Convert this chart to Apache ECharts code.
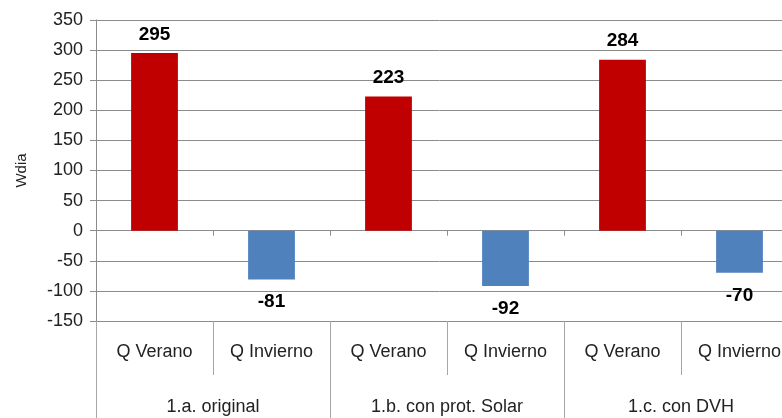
<!DOCTYPE html>
<html>
<head>
<meta charset="utf-8">
<script src="https://cdn.jsdelivr.net/npm/echarts@6/dist/echarts.min.js"></script>
<style>
  html, body { margin: 0; padding: 0; background: #fff; }
  #chart { width: 782px; height: 418px; }
</style>
</head>
<body>
<div id="chart"></div>
<script>
// data
var barLabels = ['Q Verano', 'Q Invierno', 'Q Verano', 'Q Invierno', 'Q Verano', 'Q Invierno'];
var groupLabels = ['1.a. original', '1.b. con prot. Solar', '1.c. con DVH'];
var veranoValues = [295, null, 223, null, 284, null];
var inviernoValues = [null, -81, null, -92, null, -70];

var font = 'Liberation Sans';
var gridColor = '#8c8c8c';

var chart = echarts.init(document.getElementById('chart'));

var option = {
  animation: false,
  grid: { left: 96, top: 20, width: 702, bottom: 97, outerBoundsMode: 'none', containLabel: false },
  xAxis: [
    {
      // zero line with small ticks
      type: 'category',
      data: barLabels,
      position: 'bottom',
      axisLine: { show: true, onZero: true, lineStyle: { color: gridColor } },
      axisTick: { show: true, length: 5, lineStyle: { color: gridColor } },
      axisLabel: { show: false },
      splitLine: { show: false }
    },
    {
      type: 'category',
      data: barLabels,
      position: 'bottom',
      axisLine: { show: true, onZero: false, lineStyle: { color: gridColor } },
      axisTick: { show: true, length: 54, lineStyle: { color: '#a6a6a6' } },
      axisLabel: { interval: 0, margin: 22, fontFamily: font, fontSize: 18, color: '#222' }
    },
    {
      type: 'category',
      data: groupLabels,
      position: 'bottom',
      axisLine: { show: false, onZero: false },
      axisTick: { show: true, length: 97, lineStyle: { color: '#a6a6a6' } },
      axisLabel: { interval: 0, margin: 77, fontFamily: font, fontSize: 18, color: '#222' }
    }
  ],
  yAxis: {
    type: 'value',
    min: -150,
    max: 350,
    interval: 50,
    name: 'Wdia',
    nameLocation: 'middle',
    nameGap: 67,
    nameTextStyle: { fontFamily: font, fontSize: 15, color: '#222' },
    axisLine: { show: true, lineStyle: { color: gridColor } },
    axisTick: { show: true, length: 6, lineStyle: { color: gridColor } },
    axisLabel: { margin: 13, fontFamily: font, fontSize: 18, color: '#222' },
    splitLine: { lineStyle: { color: gridColor } }
  },
  series: [
    {
      name: 'Q Verano',
      type: 'bar',
      stack: 'q',
      xAxisIndex: 0,
      barWidth: '40%',
      data: veranoValues,
      itemStyle: { color: '#c00000' },
      label: {
        show: true, position: 'top', distance: 9,
        fontFamily: font, fontSize: 19, fontWeight: 'bold', color: '#000'
      }
    },
    {
      name: 'Q Invierno',
      type: 'bar',
      stack: 'q',
      xAxisIndex: 0,
      barWidth: '40%',
      data: inviernoValues,
      itemStyle: { color: '#4f81bd' },
      label: {
        show: true, position: 'bottom', distance: 13,
        fontFamily: font, fontSize: 19, fontWeight: 'bold', color: '#000'
      }
    }
  ]
};

chart.setOption(option);
</script>
</body>
</html>
